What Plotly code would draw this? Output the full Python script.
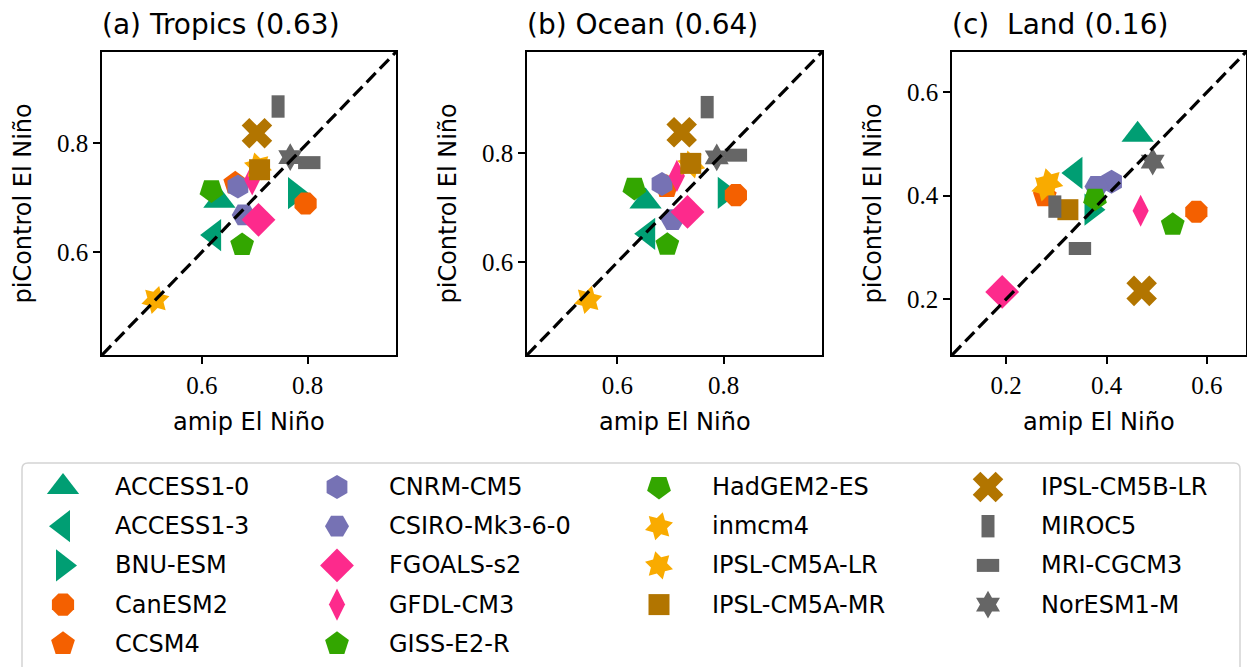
import plotly.graph_objects as go

W, H = 1247, 667

models = ["ACCESS1-0", "ACCESS1-3", "BNU-ESM", "CanESM2", "CCSM4",
          "CNRM-CM5", "CSIRO-Mk3-6-0", "FGOALS-s2", "GFDL-CM3", "GISS-E2-R",
          "HadGEM2-ES", "inmcm4", "IPSL-CM5A-LR", "IPSL-CM5A-MR",
          "IPSL-CM5B-LR", "MIROC5", "MRI-CGCM3", "NorESM1-M"]

tropics_amip = [0.633, 0.623, 0.776, 0.796, 0.663, 0.668, 0.679, 0.707, 0.695, 0.676,
                0.618, 0.512, 0.706, 0.709, 0.704, 0.744, 0.803, 0.767]
tropics_pi = [0.694, 0.631, 0.708, 0.689, 0.726, 0.720, 0.668, 0.659, 0.733, 0.613,
              0.713, 0.512, 0.757, 0.751, 0.818, 0.867, 0.764, 0.774]

ocean_amip = [0.653, 0.658, 0.802, 0.823, 0.693, 0.684, 0.704, 0.732, 0.712, 0.694,
              0.632, 0.545, 0.739, 0.738, 0.721, 0.769, 0.823, 0.787]
ocean_pi = [0.711, 0.652, 0.727, 0.723, 0.738, 0.743, 0.678, 0.692, 0.758, 0.632,
            0.736, 0.531, 0.779, 0.781, 0.838, 0.884, 0.796, 0.792]

land_amip = [0.462, 0.338, 0.370, 0.579, 0.277, 0.410, 0.380, 0.192, 0.468, 0.532,
             0.377, 0.278, 0.286, 0.323, 0.470, 0.297, 0.347, 0.492]
land_pi = [0.518, 0.444, 0.373, 0.369, 0.399, 0.427, 0.418, 0.214, 0.371, 0.344,
           0.394, 0.416, 0.426, 0.373, 0.216, 0.379, 0.298, 0.466]

titles = ["(a) Tropics (0.63)", "(b) Ocean (0.64)", "(c)  Land (0.16)"]
x_label = "amip El Niño"
y_label = "piControl El Niño"

# ---- styles ----
TEAL, ORANGE, PURPLE, PINK = "#009e73", "#f46000", "#7672b4", "#fd2a8c"
GREEN, YELLOW, BROWN, GRAY = "#33a600", "#f9ab00", "#b27500", "#666666"
styles = {
    "ACCESS1-0": dict(symbol="triangle-up", size=28, color=TEAL),
    "ACCESS1-3": dict(symbol="triangle-left", size=28, color=TEAL),
    "BNU-ESM": dict(symbol="triangle-right", size=28, color=TEAL),
    "CanESM2": dict(symbol="octagon", size=24, color=ORANGE),
    "CCSM4": dict(symbol="pentagon", size=25, color=ORANGE),
    "CNRM-CM5": dict(symbol="hexagon", size=24, color=PURPLE),
    "CSIRO-Mk3-6-0": dict(symbol="hexagon2", size=24, color=PURPLE),
    "FGOALS-s2": dict(symbol="diamond", size=26, color=PINK),
    "GFDL-CM3": dict(symbol="diamond-tall", size=23, color=PINK),
    "GISS-E2-R": dict(symbol="pentagon", size=25, color=GREEN, angle=0),
    "HadGEM2-ES": dict(symbol="pentagon", size=25, color=GREEN, angle=180),
    "inmcm4": dict(symbol="hexagram", size=22, color=YELLOW, angle=15),
    "IPSL-CM5A-LR": dict(symbol="hexagram", size=22, color=YELLOW, angle=-15),
    "IPSL-CM5A-MR": dict(symbol="square", size=21, color=BROWN),
    "IPSL-CM5B-LR": dict(symbol="x", size=27, color=BROWN),
    "MIROC5": dict(symbol="line-ns", size=16, color=GRAY, lw=13),
    "MRI-CGCM3": dict(symbol="line-ew", size=16, color=GRAY, lw=13),
    "NorESM1-M": dict(symbol="hexagram", size=21, color=GRAY),
}


def marker_for(name):
    s = styles[name]
    m = dict(symbol=s["symbol"], size=s["size"], color=s["color"],
             angle=s.get("angle", 0))
    if "lw" in s:
        m["line"] = dict(color=s["color"], width=s["lw"])
    else:
        m["line"] = dict(width=0)
    return m


SANS = "'DejaVu Sans', sans-serif"
SERIF = "'Liberation Serif', 'DejaVu Serif', serif"

fig = go.Figure()

panels = [
    (tropics_amip, tropics_pi, [0.411, 0.967], [0.6, 0.8], (102, 396)),
    (ocean_amip, ocean_pi, [0.430, 0.985], [0.6, 0.8], (527, 822)),
    (land_amip, land_pi, [0.092, 0.678], [0.2, 0.4, 0.6], (952, 1246)),
]
y_top, y_bot = 52, 355

for p, (xa, ya, rng, ticks, (xl, xr)) in enumerate(panels):
    ax = "" if p == 0 else str(p + 1)
    for i, name in enumerate(models):
        fig.add_trace(go.Scatter(
            x=[xa[i]], y=[ya[i]], mode="markers", marker=marker_for(name),
            name=name, showlegend=False, xaxis="x" + ax, yaxis="y" + ax,
            hoverinfo="name+x+y"))
    axis_common = dict(range=rng, tickvals=ticks, ticktext=[f"{t:.1f}" for t in ticks],
                       showline=True, mirror=True, linecolor="black", linewidth=1.6,
                       ticks="outside", ticklen=7, tickwidth=1.5, tickcolor="black",
                       showgrid=False, zeroline=False,
                       tickfont=dict(family=SERIF, size=25, color="black"))
    fig.update_layout(**{
        "xaxis" + ax: dict(axis_common, domain=[xl / W, xr / W],
                           anchor="y" + ax, automargin=False),
        "yaxis" + ax: dict(axis_common, domain=[1 - y_bot / H, 1 - y_top / H],
                           anchor="x" + ax, automargin=False),
    })
    # 1:1 reference line
    fig.add_shape(type="line", xref="x" + ax, yref="y" + ax,
                  x0=rng[0], y0=rng[0], x1=rng[1], y1=rng[1],
                  line=dict(color="black", width=3.2, dash="13px,6px"), layer="above")
    # titles and axis labels
    fig.add_annotation(text=titles[p], xref="paper", yref="paper",
                       x=(xl - 2) / W, y=1 - 24 / H, xanchor="left", yanchor="middle",
                       showarrow=False, font=dict(family=SANS, size=28, color="black"))
    fig.add_annotation(text=x_label, xref="paper", yref="paper",
                       x=(xl + xr) / 2 / W, y=1 - 422 / H, xanchor="center",
                       yanchor="middle", showarrow=False,
                       font=dict(family=SANS, size=24, color="black"))
    fig.add_annotation(text=y_label, xref="paper", yref="paper",
                       x=(xl - 80) / W, y=1 - (y_top + y_bot) / 2 / H,
                       xanchor="center", yanchor="middle", textangle=-90,
                       showarrow=False, font=dict(family=SANS, size=24, color="black"))

# ---- legend (drawn on a hidden pixel-space axis) ----
col_counts = [5, 5, 4, 4]
col_marker_x = [63, 337, 659, 988]
col_text_x = [113, 387, 710, 1039]
row0, row_step = 487, 39.2

fig.add_shape(type="path", xref="paper", yref="paper",
              path=f"M {28/W} {1-463/H} L {1234/W} {1-463/H} Q {1240/W} {1-463/H} {1240/W} {1-469/H} "
                   f"L {1240/W} {1-690/H} L {22/W} {1-690/H} L {22/W} {1-469/H} Q {22/W} {1-463/H} {28/W} {1-463/H} Z",
              line=dict(color="#d4d4d4", width=1.5), fillcolor="white", layer="below")

idx = 0
for c, n in enumerate(col_counts):
    for r in range(n):
        name = models[idx]
        fig.add_trace(go.Scatter(
            x=[col_marker_x[c]], y=[row0 + r * row_step], mode="markers",
            marker=marker_for(name), xaxis="x4", yaxis="y4",
            showlegend=False, hoverinfo="skip"))
        fig.add_annotation(text=name, xref="x4", yref="y4",
                           x=col_text_x[c], y=row0 + r * row_step,
                           xanchor="left", yanchor="middle", showarrow=False,
                           font=dict(family=SANS, size=24, color="black"))
        idx += 1

fig.update_layout(
    xaxis4=dict(domain=[0, 1], range=[0, W], visible=False, anchor="y4", fixedrange=True),
    yaxis4=dict(domain=[0, 1], range=[H, 0], visible=False, anchor="x4", fixedrange=True),
    width=W, height=H, margin=dict(l=0, r=0, t=0, b=0),
    plot_bgcolor="rgba(0,0,0,0)", paper_bgcolor="white",
    showlegend=False,
)

fig.write_html("out.html")
